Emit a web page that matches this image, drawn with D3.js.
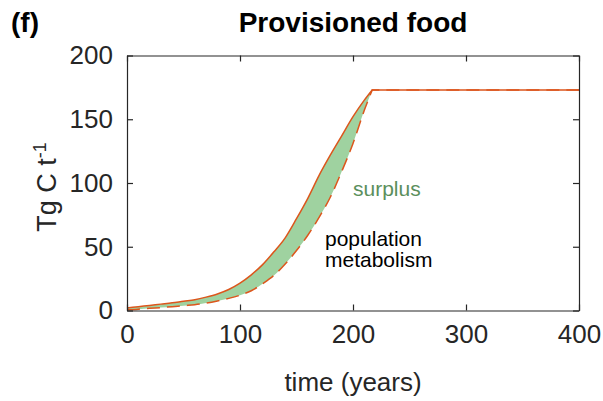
<!DOCTYPE html>
<html>
<head>
<meta charset="utf-8">
<script src="https://cdn.jsdelivr.net/npm/d3@7"></script>
<style>
  body { margin: 0; background: #fff; }
  text { font-family: "Liberation Sans", Arial, Helvetica, sans-serif; }
</style>
</head>
<body>
<div class="graph"></div>
<script>
// time axis (years)
const years = [0, 10, 20, 30, 40, 50, 60, 70, 80, 90, 100, 110, 120, 130, 140, 150, 160, 170, 180, 190, 200, 210, 217, 300, 400]
// provisioned food (solid)
const food = [2, 3, 4, 5, 6, 7.3, 8.5, 10.5, 13, 16.5, 21.5, 28, 36, 46, 57, 72, 88, 106, 122, 137, 152, 165, 173, 173, 173]
// population metabolism (dashed)
const metabolism = [0.5, 1, 1.7, 2.3, 3, 3.8, 4.5, 5.8, 7.5, 9.5, 12, 15.5, 21, 27.5, 36.5, 47, 59, 73, 89, 109, 131, 157, 173, 173, 173]
const xTicks = [0, 100, 200, 300, 400]
const yTicks = [0, 50, 100, 150, 200]

const width = 603
const height = 401
const margin = ({top: 55.5, right: 24, bottom: 90.5, left: 127})
const orange = "#dc561c"
const axisColor = "#262626"

const data = years.map((t, i) => ({t: t, food: food[i], met: metabolism[i]}))
const peak = 217
const rise = data.filter(d => d.t <= peak)
const plateau = data.filter(d => d.t >= peak)

const x = d3.scaleLinear()
  .domain([0, 400])
  .range([margin.left, width - margin.right])
const y = d3.scaleLinear()
  .domain([0, 200])
  .range([height - margin.bottom, margin.top])

const svg = d3.select(".graph").append("svg")
  .attr("width", width)
  .attr("height", height)

// surplus band
const area = d3.area()
  .curve(d3.curveMonotoneX)
  .x(d => x(d.t))
  .y0(d => y(d.met))
  .y1(d => y(d.food))
svg.append("path")
  .datum(rise)
  .attr("fill", "#9fd2a0")
  .attr("d", area)

const line = (key, curve) => d3.line()
  .curve(curve)
  .x(d => x(d.t))
  .y(d => y(d[key]))

// rising part smooth, plateau straight so the corner stays sharp
const pathFor = key => line(key, d3.curveMonotoneX)(rise) + line(key, d3.curveLinear)(plateau).replace(/^M/, "L")

svg.append("path")
  .attr("fill", "none")
  .attr("stroke", orange)
  .attr("stroke-width", 1.5)
  .attr("stroke-dasharray", "13,7")
  .attr("d", pathFor("met"))

svg.append("path")
  .attr("fill", "none")
  .attr("stroke", orange)
  .attr("stroke-width", 1.5)
  .attr("d", pathFor("food"))

// axes, MATLAB style box with inward ticks
const tickLen = 6
const xAxis = g => g
  .attr("transform", `translate(0,${y(0)})`)
  .call(d3.axisBottom(x).tickValues(xTicks).tickSizeInner(-tickLen).tickSizeOuter(0).tickPadding(14))
const xAxisTop = g => g
  .attr("transform", `translate(0,${y(200)})`)
  .call(d3.axisTop(x).tickValues(xTicks).tickSizeInner(-tickLen).tickSizeOuter(0).tickFormat(""))
const yAxis = g => g
  .attr("transform", `translate(${x(0)},0)`)
  .call(d3.axisLeft(y).tickValues(yTicks).tickSizeInner(-tickLen).tickSizeOuter(0).tickPadding(14))
const yAxisRight = g => g
  .attr("transform", `translate(${x(400)},0)`)
  .call(d3.axisRight(y).tickValues(yTicks).tickSizeInner(-tickLen).tickSizeOuter(0).tickFormat(""))

for (const ax of [xAxis, xAxisTop, yAxis, yAxisRight]) {
  svg.append("g").call(ax)
    .call(g => g.selectAll(".domain").attr("stroke", axisColor).attr("stroke-width", 1.2))
    .call(g => g.selectAll(".tick line").attr("stroke", axisColor).attr("stroke-width", 1.2))
    .call(g => g.selectAll(".tick text")
      .attr("fill", axisColor)
      .style("font-family", "'Liberation Sans', Arial, sans-serif")
      .style("font-size", "26px"))
}

// titles and labels
svg.append("text")
  .attr("x", 353).attr("y", 32)
  .attr("text-anchor", "middle")
  .style("font-weight", "bold").style("font-size", "28px")
  .attr("fill", "#000")
  .text("Provisioned food")

svg.append("text")
  .attr("x", 11).attr("y", 32)
  .style("font-weight", "bold").style("font-size", "28px")
  .attr("fill", "#000")
  .text("(f)")

svg.append("text")
  .attr("x", 353).attr("y", 391)
  .attr("text-anchor", "middle")
  .style("font-size", "26px")
  .attr("fill", axisColor)
  .text("time (years)")

const ylab = svg.append("text")
  .attr("transform", "translate(56,187) rotate(-90)")
  .attr("text-anchor", "middle")
  .style("font-size", "27px")
  .attr("fill", axisColor)
ylab.append("tspan").text("Tg C t")
ylab.append("tspan").attr("dy", -10).style("font-size", "18px").text("-1")

svg.append("text")
  .attr("x", 353).attr("y", 196)
  .style("font-size", "21px")
  .attr("fill", "#5b8f5c")
  .text("surplus")

svg.append("text")
  .attr("x", 325).attr("y", 246)
  .style("font-size", "21px")
  .attr("fill", "#000")
  .text("population")
svg.append("text")
  .attr("x", 325).attr("y", 267)
  .style("font-size", "21px")
  .attr("fill", "#000")
  .text("metabolism")
</script>
</body>
</html>
